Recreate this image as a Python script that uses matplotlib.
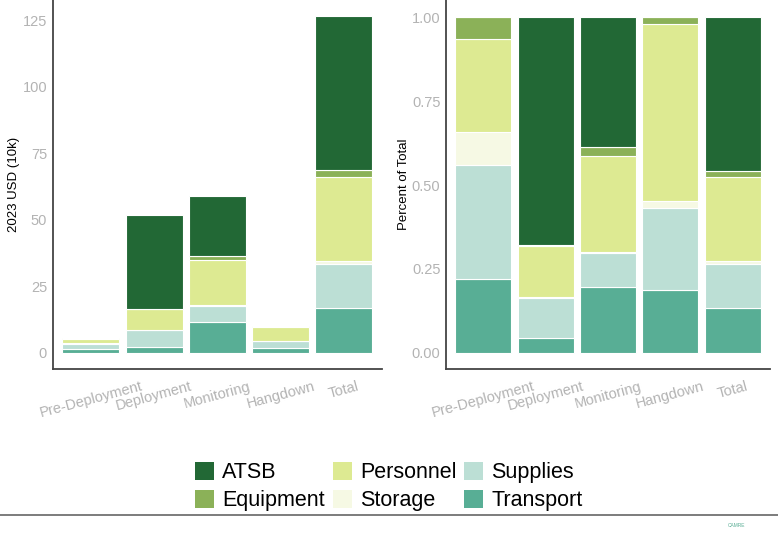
import numpy as np
import matplotlib
matplotlib.use("Agg")
import matplotlib.pyplot as plt
from matplotlib.patches import Patch

plt.rcParams['font.family'] = ['Liberation Sans', 'DejaVu Sans']

# -------------------------
# Data (2023 USD, 10k)
# -------------------------
phases = ["Pre-Deployment", "Deployment", "Monitoring", "Hangdown"]
transport = [1.25, 2.3, 11.5, 1.85]
supplies = [1.94, 6.2, 6.0, 2.42]
storage = [0.57, 0.1, 0.3, 0.2]
personnel = [1.57, 7.8, 16.9, 5.26]
equipment = [0.37, 0.2, 1.6, 0.18]
atsb = [0.0, 35.1, 22.8, 0.0]

categories = phases + ["Total"]
layer_names = ["Transport", "Supplies", "Storage", "Personnel", "Equipment", "ATSB"]
layer_vals = [transport, supplies, storage, personnel, equipment, atsb]
colors = {
    "ATSB": "#226835",
    "Equipment": "#8BB158",
    "Personnel": "#DDEA92",
    "Storage": "#F6F9E4",
    "Supplies": "#BCDFD5",
    "Transport": "#58AE95",
}

# add Total column
V = np.array([v + [sum(v)] for v in layer_vals])
P = V / V.sum(axis=0)

# -------------------------
# Figure
# -------------------------
fig = plt.figure(figsize=(7.78, 5.39), dpi=100)
ax1 = fig.add_axes([0.0677, 0.3145, 0.4233, 0.6855])
ax2 = fig.add_axes([0.5733, 0.3145, 0.4164, 0.6855])

x = np.arange(len(categories))
grey = "#B3B3B3"

for ax, data in [(ax1, V), (ax2, P)]:
    bottom = np.zeros(len(categories))
    for name, row in zip(layer_names, data):
        ax.bar(x, row, bottom=bottom, width=0.9, color=colors[name],
               edgecolor="white", linewidth=0.8)
        bottom += row
    ax.set_xlim(-0.6, 4.6)
    ax.set_xticks(x)
    ax.set_xticklabels(categories, rotation=15, ha="center", va="top",
                       color=grey, fontsize=10.5)
    for s in ["top", "right"]:
        ax.spines[s].set_visible(False)
    for s in ["left", "bottom"]:
        ax.spines[s].set_color("#444444")
        ax.spines[s].set_linewidth(1.3)
    ax.tick_params(axis="y", length=0, labelsize=10.5, labelcolor=grey, pad=4)
    ax.tick_params(axis="x", length=0, pad=7)

ax1.set_ylim(-6.3, 132.6)
ax1.set_yticks([0, 25, 50, 75, 100, 125])
ax1.set_ylabel("2023 USD (10k)", fontsize=9.5, labelpad=2)

ax2.set_ylim(-0.05, 1.052)
ax2.set_yticks([0, 0.25, 0.5, 0.75, 1.0])
ax2.set_yticklabels(["0.00", "0.25", "0.50", "0.75", "1.00"])
ax2.set_ylabel("Percent of Total", fontsize=9.5, labelpad=1)

# -------------------------
# Legend
# -------------------------
order = ["ATSB", "Equipment", "Personnel", "Storage", "Supplies", "Transport"]
handles = [Patch(facecolor=colors[n], edgecolor="none") for n in order]
fig.legend(handles, order, ncol=3, loc="center", bbox_to_anchor=(0.5, 0.097),
           frameon=False, fontsize=15.5, handlelength=0.88, handleheight=0.88,
           handletextpad=0.37, columnspacing=0.37, labelspacing=0.3,
           borderpad=0)

# bottom rule + logo text
fig.add_artist(plt.Line2D([0, 1], [0.0445, 0.0445], color="#666666",
                          linewidth=1.2, transform=fig.transFigure))
fig.text(0.947, 0.025, "CAMRE", fontsize=3.5, color="#5AAE95",
         ha="center", va="center")

fig.savefig("out.png", dpi=100)
